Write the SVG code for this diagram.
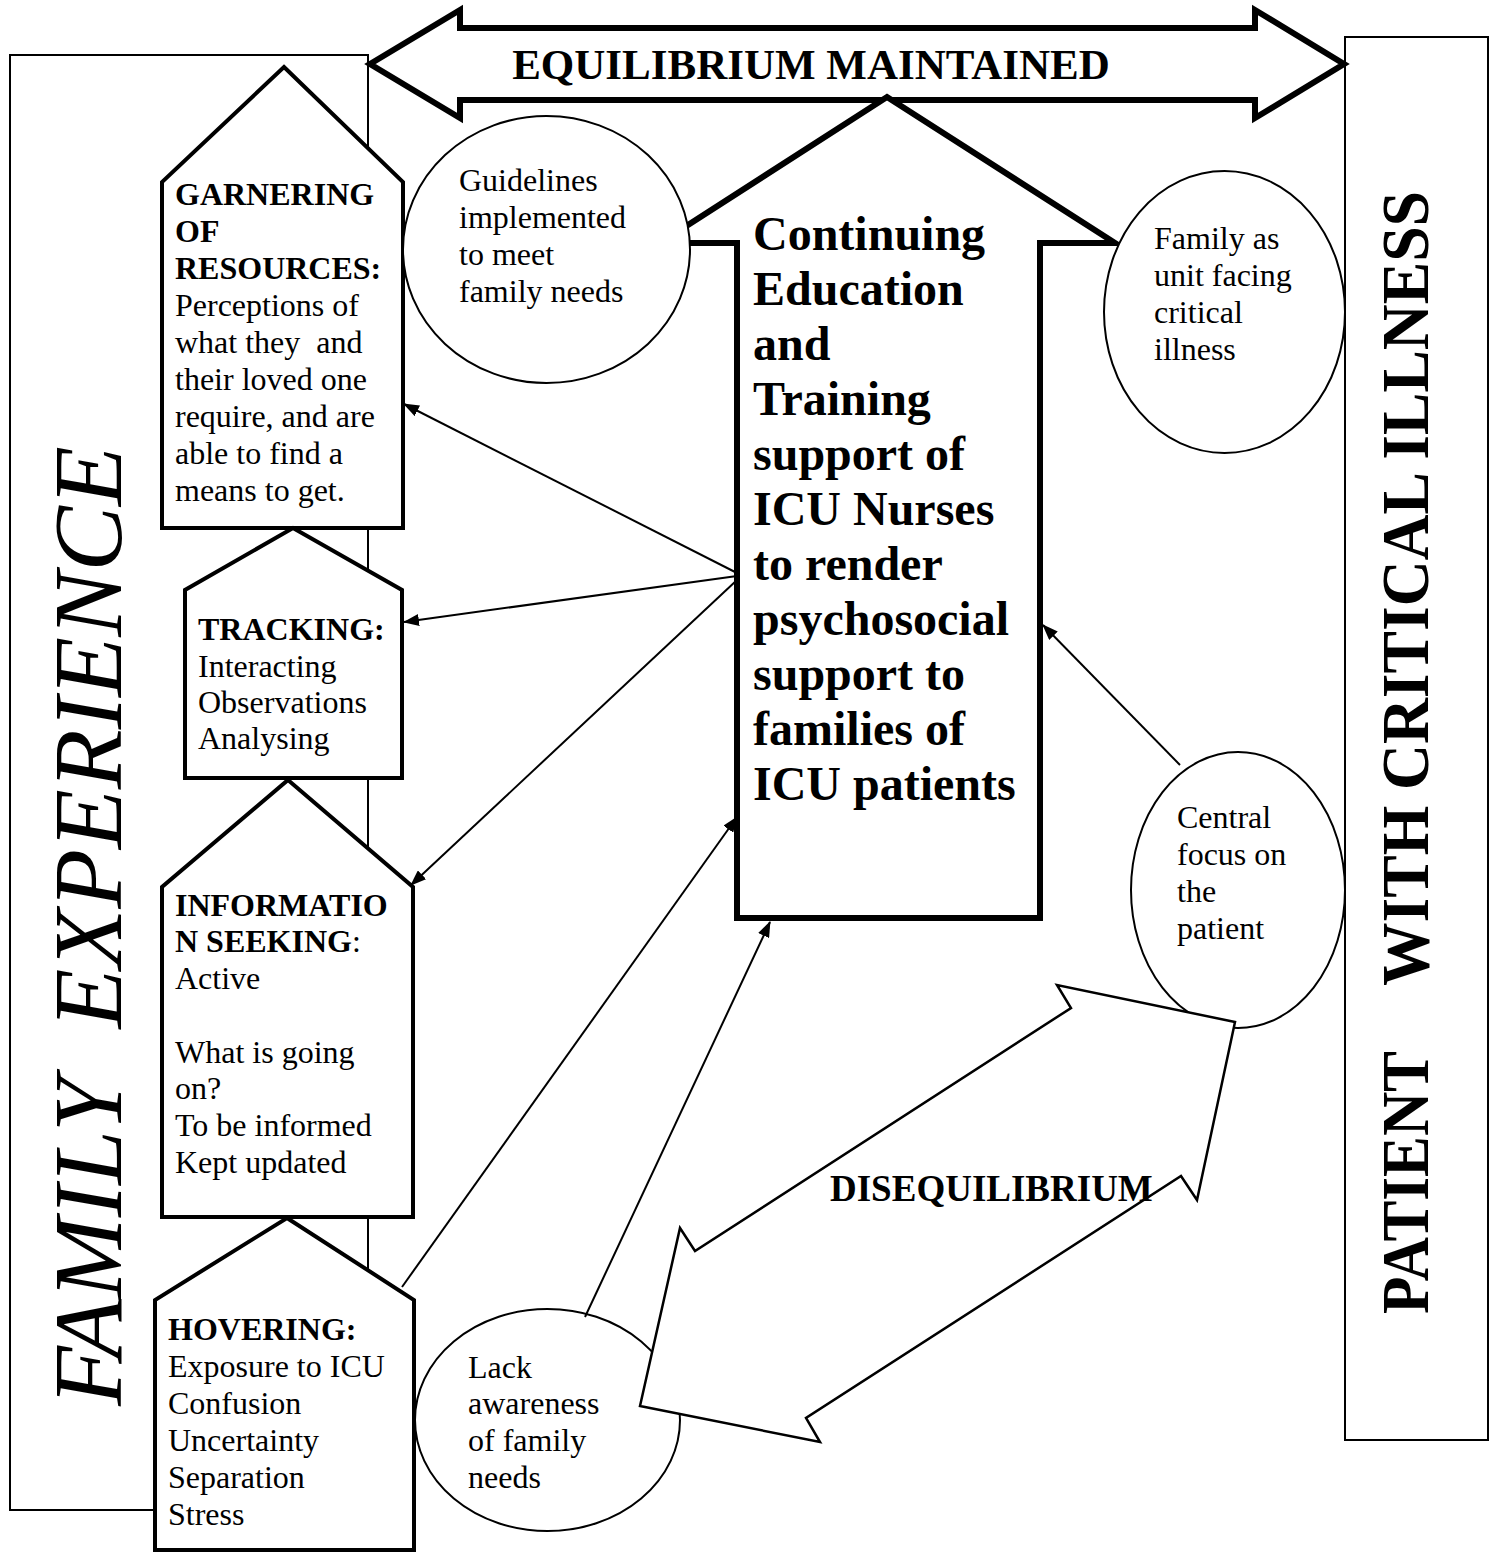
<svg xmlns="http://www.w3.org/2000/svg" width="1495" height="1558" viewBox="0 0 1495 1558">
<style>
text { font-family: "Liberation Serif", "Times New Roman", serif; fill: #000; }
.t { font-size: 32px; }
.b { font-weight: bold; }
.thin { fill: none; stroke: #000; stroke-width: 2; }
.box { fill: #fff; stroke: #000; stroke-width: 4; stroke-linejoin: miter; }
.ell { fill: #fff; stroke: #000; stroke-width: 2; }
.big { fill: #fff; stroke: #000; stroke-width: 6; stroke-linejoin: miter; }
.con { fill: none; stroke: #000; stroke-width: 2; marker-end: url(#ah); }
.main { font-size: 48px; font-weight: bold; }
</style>
<defs>
<marker id="ah" markerUnits="userSpaceOnUse" markerWidth="16" markerHeight="12" refX="15" refY="6" orient="auto">
<path d="M0,0 L16,6 L0,12 z" fill="#000"/>
</marker>
</defs>
<rect width="1495" height="1558" fill="#fff"/>

<g id="family-experience">
<rect x="10" y="55" width="358" height="1455" class="thin"/>
<text transform="translate(121,1406) rotate(-90)" font-size="98" font-style="italic" xml:space="preserve">FAMILY  EXPERIENCE</text>
</g>

<g id="patient-critical-illness">
<rect x="1345" y="37" width="143" height="1403" class="thin"/>
<text class="b" transform="translate(1428,1314) rotate(-90) scale(0.9,1)" font-size="68">PATIENT</text>
<text class="b" transform="translate(1428,986) rotate(-90) scale(0.935,1)" font-size="68">WITH CRITICAL ILLNESS</text>
</g>

<g id="equilibrium-maintained">
<polygon class="big" points="370,64 460,10 460,28 1255,28 1255,10 1344,64 1255,118 1255,100 460,100 460,118"/>
<text class="b" x="811" y="79" font-size="43" text-anchor="middle">EQUILIBRIUM MAINTAINED</text>
</g>

<g id="continuing-education">
<polygon class="big" points="887,97 1115,243 1040,243 1040,918 737,918 737,243 660,243"/>
<text class="main" x="753" y="250">Continuing</text>
<text class="main" x="753" y="305">Education</text>
<text class="main" x="753" y="360">and</text>
<text class="main" x="753" y="415">Training</text>
<text class="main" x="753" y="470">support of</text>
<text class="main" x="753" y="525">ICU Nurses</text>
<text class="main" x="753" y="580">to render</text>
<text class="main" x="753" y="635">psychosocial</text>
<text class="main" x="753" y="690">support to</text>
<text class="main" x="753" y="745">families of</text>
<text class="main" x="753" y="800">ICU patients</text>
</g>

<g id="garnering">
<polygon class="box" points="284,67 403,182 403,528 162,528 162,182"/>
<text class="t" x="175" y="205"><tspan class="b">GARNERING</tspan><tspan class="b" x="175" dy="37">OF</tspan><tspan class="b" x="175" dy="37">RESOURCES:</tspan><tspan x="175" dy="37">Perceptions of</tspan><tspan x="175" dy="37" xml:space="preserve">what they  and</tspan><tspan x="175" dy="37">their loved one</tspan><tspan x="175" dy="37">require, and are</tspan><tspan x="175" dy="37">able to find a</tspan><tspan x="175" dy="37">means to get.</tspan></text>
</g>

<g id="tracking">
<polygon class="box" points="293,528 402,590 402,778 185,778 185,590"/>
<text class="t" x="198" y="640"><tspan class="b">TRACKING:</tspan><tspan x="198" dy="37">Interacting</tspan><tspan x="198" dy="36">Observations</tspan><tspan x="198" dy="36">Analysing</tspan></text>
</g>

<g id="information-seeking">
<polygon class="box" points="288,780 413,887 413,1217 162,1217 162,887"/>
<text class="t" x="175" y="916"><tspan class="b">INFORMATIO</tspan><tspan x="175" dy="36"><tspan class="b">N SEEKING</tspan>:</tspan><tspan x="175" dy="37">Active</tspan><tspan x="175" dy="74">What is going</tspan><tspan x="175" dy="36">on?</tspan><tspan x="175" dy="37">To be informed</tspan><tspan x="175" dy="37">Kept updated</tspan></text>
</g>

<g id="hovering">
<polygon class="box" points="287,1218 414,1300 414,1550 155,1550 155,1300"/>
<text class="t" x="168" y="1340"><tspan class="b">HOVERING:</tspan><tspan x="168" dy="37">Exposure to ICU</tspan><tspan x="168" dy="37">Confusion</tspan><tspan x="168" dy="37">Uncertainty</tspan><tspan x="168" dy="37">Separation</tspan><tspan x="168" dy="37">Stress</tspan></text>
</g>

<g id="guidelines">
<ellipse class="ell" cx="546.5" cy="249.5" rx="143.5" ry="133.5"/>
<text class="t" x="459" y="191"><tspan>Guidelines</tspan><tspan x="459" dy="37">implemented</tspan><tspan x="459" dy="37">to meet</tspan><tspan x="459" dy="37">family needs</tspan></text>
</g>

<g id="family-unit">
<ellipse class="ell" cx="1224.5" cy="312" rx="120.5" ry="141"/>
<text class="t" x="1154" y="249"><tspan>Family as</tspan><tspan x="1154" dy="37">unit facing</tspan><tspan x="1154" dy="37">critical</tspan><tspan x="1154" dy="37">illness</tspan></text>
</g>

<g id="central-focus">
<ellipse class="ell" cx="1238" cy="890" rx="107" ry="138"/>
<text class="t" x="1177" y="828"><tspan>Central</tspan><tspan x="1177" dy="37">focus on</tspan><tspan x="1177" dy="37">the</tspan><tspan x="1177" dy="37">patient</tspan></text>
</g>

<g id="lack-awareness">
<ellipse class="ell" cx="547.5" cy="1420" rx="132.5" ry="111"/>
<text class="t" x="468" y="1378"><tspan>Lack</tspan><tspan x="468" dy="36">awareness</tspan><tspan x="468" dy="37">of family</tspan><tspan x="468" dy="37">needs</tspan></text>
</g>

<g id="connectors">
<line class="con" x1="737" y1="573" x2="404" y2="404"/>
<line class="con" x1="737" y1="576" x2="404" y2="622"/>
<line class="con" x1="737" y1="580" x2="411" y2="885"/>
<line class="con" x1="402" y1="1287" x2="737" y2="817"/>
<line class="con" x1="585" y1="1317" x2="770" y2="922"/>
<line class="con" x1="1180" y1="765" x2="1043" y2="625"/>
</g>

<g id="disequilibrium">
<polygon fill="#fff" stroke="#000" stroke-width="2.5" stroke-linejoin="miter" points="1235,1022 1197,1200 1181,1176 806,1418 820,1442 640,1406 680,1228 695,1251 1071,1008 1057,985"/>
<text class="b" x="830" y="1201" font-size="37">DISEQUILIBRIUM</text>
</g>
</svg>
